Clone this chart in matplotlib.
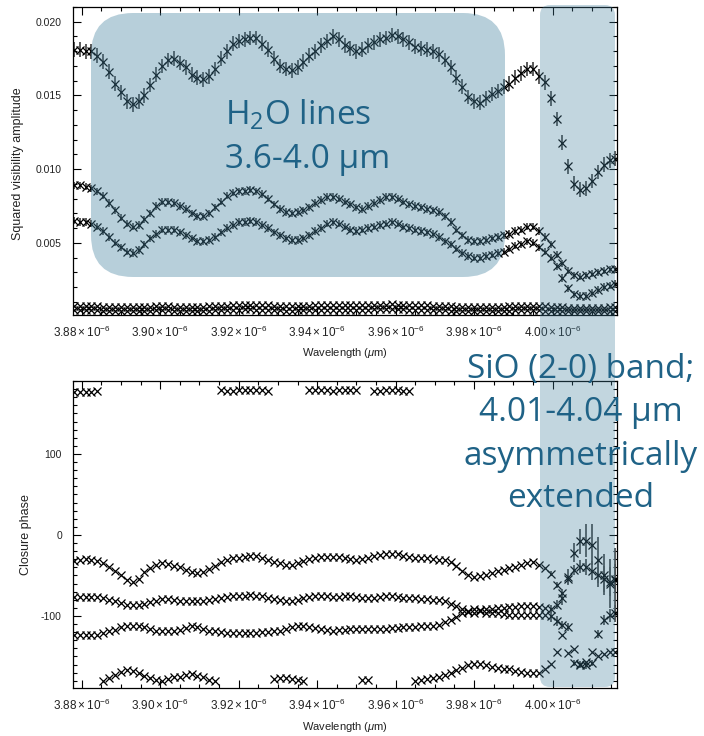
import numpy as np
import matplotlib
matplotlib.use('Agg')
import matplotlib.pyplot as plt
from matplotlib.patches import FancyBboxPatch
from matplotlib.ticker import MultipleLocator, FuncFormatter, FormatStrFormatter

plt.rcParams['font.family'] = ['Liberation Sans', 'DejaVu Sans']
plt.rcParams['mathtext.fontset'] = 'custom'
plt.rcParams['mathtext.rm'] = 'Liberation Sans'
plt.rcParams['mathtext.it'] = 'Liberation Sans:italic'
plt.rcParams['axes.unicode_minus'] = False

# spectral channels (nm)
wavelength_nm = [
    3878.0, 3879.5, 3881.0, 3882.5, 3884.0, 3885.5, 3887.0, 3888.5, 3890.0, 3891.5,
    3893.0, 3894.5, 3896.0, 3897.5, 3899.0, 3900.5, 3902.0, 3903.5, 3905.0, 3906.5,
    3908.0, 3909.5, 3911.0, 3912.5, 3914.0, 3915.5, 3917.0, 3918.5, 3920.0, 3921.5,
    3923.0, 3924.5, 3926.0, 3927.5, 3929.0, 3930.5, 3932.0, 3933.5, 3935.0, 3936.5,
    3938.0, 3939.5, 3941.0, 3942.5, 3944.0, 3945.5, 3947.0, 3948.5, 3950.0, 3951.5,
    3953.0, 3954.5, 3956.0, 3957.5, 3959.0, 3960.5, 3962.0, 3963.5, 3965.0, 3966.5,
    3968.0, 3969.5, 3971.0, 3972.5, 3974.0, 3975.5, 3977.0, 3978.5, 3980.0, 3981.5,
    3983.0, 3984.5, 3986.0, 3987.5, 3989.0, 3990.5, 3992.0, 3993.5, 3995.0, 3996.5,
    3998.0, 3999.5, 4001.0, 4002.5, 4004.0, 4005.5, 4007.0, 4008.5, 4010.0, 4011.5,
    4013.0, 4014.5, 4016.0]

# squared visibilities
v2_top = [
    0.0181, 0.0181, 0.0180, 0.0180, 0.0177, 0.0173, 0.0166, 0.0158, 0.0152, 0.0146,
    0.0144, 0.0146, 0.0150, 0.0157, 0.0164, 0.0170, 0.0174, 0.0175, 0.0172, 0.0169,
    0.0164, 0.0162, 0.0161, 0.0163, 0.0168, 0.0175, 0.0180, 0.0185, 0.0187, 0.0188,
    0.0189, 0.0189, 0.0185, 0.0181, 0.0175, 0.0170, 0.0168, 0.0167, 0.0169, 0.0173,
    0.0177, 0.0180, 0.0184, 0.0187, 0.0190, 0.0188, 0.0184, 0.0182, 0.0180, 0.0181,
    0.0184, 0.0186, 0.0188, 0.0189, 0.0191, 0.0190, 0.0188, 0.0186, 0.0183, 0.0182,
    0.0181, 0.0180, 0.0178, 0.0174, 0.0169, 0.0162, 0.0156, 0.0149, 0.0146, 0.0145,
    0.0148, 0.0151, 0.0153, 0.0156, 0.0158, 0.0162, 0.0165, 0.0168, 0.0168, 0.0163,
    0.0159, 0.0148, 0.0134, 0.0118, 0.0102, 0.0090, 0.0086, 0.0087, 0.0092, 0.0098,
    0.0103, 0.0106, 0.0107]
v2_mid1 = [
    0.0089, 0.0089, 0.0088, 0.0087, 0.0085, 0.0082, 0.0077, 0.0072, 0.0067, 0.0063,
    0.0061, 0.0062, 0.0066, 0.0070, 0.0075, 0.0078, 0.0078, 0.0077, 0.0075, 0.0073,
    0.0070, 0.0068, 0.0068, 0.0070, 0.0074, 0.0078, 0.0082, 0.0084, 0.0085, 0.0085,
    0.0086, 0.0085, 0.0083, 0.0080, 0.0076, 0.0073, 0.0071, 0.0070, 0.0071, 0.0072,
    0.0074, 0.0077, 0.0079, 0.0081, 0.0081, 0.0080, 0.0078, 0.0076, 0.0074, 0.0073,
    0.0075, 0.0077, 0.0079, 0.0081, 0.0081, 0.0080, 0.0078, 0.0076, 0.0075, 0.0074,
    0.0073, 0.0072, 0.0071, 0.0068, 0.0064, 0.0059, 0.0055, 0.0052, 0.0051, 0.0051,
    0.0052, 0.0053, 0.0054, 0.0055, 0.0056, 0.0058, 0.0059, 0.0061, 0.0061, 0.0058,
    0.0054, 0.0049, 0.0042, 0.0036, 0.0031, 0.0028, 0.0027, 0.0028, 0.0029, 0.0030,
    0.0031, 0.0032, 0.0032]
v2_mid2 = [
    0.0065, 0.0064, 0.0064, 0.0063, 0.0061, 0.0058, 0.0054, 0.0050, 0.0047, 0.0044,
    0.0043, 0.0045, 0.0049, 0.0053, 0.0056, 0.0059, 0.0059, 0.0059, 0.0057, 0.0055,
    0.0053, 0.0051, 0.0051, 0.0052, 0.0054, 0.0057, 0.0060, 0.0062, 0.0064, 0.0064,
    0.0065, 0.0064, 0.0062, 0.0060, 0.0057, 0.0055, 0.0053, 0.0052, 0.0052, 0.0053,
    0.0055, 0.0058, 0.0060, 0.0063, 0.0064, 0.0063, 0.0061, 0.0059, 0.0058, 0.0059,
    0.0060, 0.0061, 0.0062, 0.0063, 0.0064, 0.0063, 0.0061, 0.0060, 0.0059, 0.0058,
    0.0057, 0.0056, 0.0054, 0.0051, 0.0049, 0.0046, 0.0043, 0.0041, 0.0040, 0.0040,
    0.0041, 0.0042, 0.0043, 0.0044, 0.0046, 0.0048, 0.0049, 0.0051, 0.0050, 0.0047,
    0.0044, 0.0040, 0.0034, 0.0026, 0.0019, 0.0015, 0.0014, 0.0014, 0.0016, 0.0018,
    0.0020, 0.0021, 0.0022]
v2_low1 = [
    0.00072, 0.00070, 0.00071, 0.00069, 0.00068, 0.00067, 0.00066, 0.00065, 0.00065, 0.00064,
    0.00064, 0.00065, 0.00066, 0.00067, 0.00068, 0.00068, 0.00068, 0.00067, 0.00066, 0.00066,
    0.00065, 0.00065, 0.00066, 0.00068, 0.00070, 0.00072, 0.00074, 0.00076, 0.00078, 0.00079,
    0.00080, 0.00079, 0.00077, 0.00075, 0.00072, 0.00070, 0.00069, 0.00068, 0.00069, 0.00071,
    0.00073, 0.00075, 0.00077, 0.00078, 0.00079, 0.00078, 0.00077, 0.00076, 0.00075, 0.00076,
    0.00077, 0.00079, 0.00080, 0.00081, 0.00082, 0.00081, 0.00080, 0.00078, 0.00077, 0.00076,
    0.00075, 0.00074, 0.00073, 0.00071, 0.00069, 0.00067, 0.00065, 0.00064, 0.00063, 0.00063,
    0.00064, 0.00065, 0.00066, 0.00067, 0.00068, 0.00069, 0.00070, 0.00071, 0.00071, 0.00070,
    0.00068, 0.00066, 0.00064, 0.00062, 0.00060, 0.00059, 0.00058, 0.00058, 0.00059, 0.00060,
    0.00060, 0.00061, 0.00061]
v2_low2 = [
    0.00044, 0.00043, 0.00043, 0.00042, 0.00041, 0.00040, 0.00039, 0.00038, 0.00038, 0.00037,
    0.00037, 0.00038, 0.00039, 0.00040, 0.00041, 0.00041, 0.00041, 0.00040, 0.00039, 0.00039,
    0.00038, 0.00038, 0.00039, 0.00040, 0.00042, 0.00043, 0.00045, 0.00046, 0.00047, 0.00048,
    0.00048, 0.00047, 0.00046, 0.00044, 0.00042, 0.00041, 0.00040, 0.00040, 0.00041, 0.00042,
    0.00044, 0.00045, 0.00046, 0.00047, 0.00047, 0.00046, 0.00046, 0.00045, 0.00045, 0.00046,
    0.00047, 0.00048, 0.00049, 0.00050, 0.00050, 0.00049, 0.00048, 0.00047, 0.00046, 0.00045,
    0.00044, 0.00043, 0.00042, 0.00041, 0.00040, 0.00039, 0.00038, 0.00037, 0.00037, 0.00037,
    0.00038, 0.00038, 0.00039, 0.00040, 0.00040, 0.00041, 0.00042, 0.00042, 0.00042, 0.00041,
    0.00040, 0.00039, 0.00038, 0.00037, 0.00036, 0.00035, 0.00035, 0.00035, 0.00036, 0.00036,
    0.00037, 0.00037, 0.00038]
v2_top_err = 0.0005
v2_mid_err = 0.00025

# closure phases (deg)
cp1 = [
    -32, -31, -30, -31, -32, -35, -39, -45, -50, -56,
    -58, -54, -46, -41, -37, -35, -36, -38, -40, -43,
    -46, -47, -46, -42, -38, -34, -31, -29, -28, -27,
    -26, -26, -28, -31, -33, -35, -37, -37, -35, -32,
    -30, -28, -27.5, -27, -27, -27.5, -28.5, -30, -31, -30,
    -29, -26, -25, -23, -23, -24, -26, -27, -28, -29,
    -29, -30, -31, -31, -34, -38, -44, -49, -52, -51,
    -49, -47, -45, -43, -41, -39, -37, -35, -34, -37,
    -41, -48, -62, -72, -55, -43, -39, -40, -44, -50,
    -54, -58, -54]
cp2 = [
    -77, -77, -77, -77, -77, -78, -80, -82, -84, -86,
    -87, -87, -85, -83, -81, -79, -79, -80, -81, -82,
    -82, -82, -81, -80, -79, -78, -77, -76, -75.5, -75,
    -74, -75, -76, -78, -79, -80, -81, -81, -80, -78,
    -77, -76, -76, -76, -77, -77, -76, -76, -77, -78,
    -78, -78, -77, -76, -76, -77, -78, -78, -78, -79,
    -79, -80, -80, -82, -85, -88, -92, -95, -96, -94,
    -92, -91, -90, -90, -89, -89, -88, -88, -88, -89,
    -90, -92, -86, -78, -52, -22, -8, -7, -12, -31,
    -49, -60, -56]
cp3 = [
    -124, -124, -124, -124, -123, -121, -119, -117, -114, -113,
    -112, -112, -114, -116, -118, -119, -119, -118, -117, -115,
    -113, -114, -116, -118, -119, -120, -121, -121, -121, -121,
    -121, -121, -120, -120, -119, -118, -116, -114, -113, -113,
    -114, -115, -116, -117, -118, -117, -117, -116, -116, -116,
    -116, -116, -116, -116, -115, -115, -114, -114, -114, -113,
    -113, -112, -111, -108, -105, -101, -97, -94, -91, -93,
    -96, -97, -97, -98, -99, -99, -99, -99, -99, -99,
    -99, -100, -106, -111, -114, -158, -160, -161, -158, -122,
    -105, -99, -97]
cp4 = [
    177, 177, 177, 177, 178, -180, -177, -173, -169, -167,
    -168, -171, -174, -177, -179, -180, -178, -176, -175, -173,
    -172, -174, -176, -179, -180, 179, 178, 178, 179, 179,
    179, 179, 179, 178, -178, -177, -177, -178, -179, -180,
    179, 179, 179, 179, 178, 179, 179, 179, 179, -179,
    -179, 178, 178, 179, 179, 179, 178, 178, -180, -179,
    -178, -177, -175, -173, -170, -167, -164, -161, -159, -159,
    -161, -163, -164, -165, -166, -168, -169, -170, -171, -170,
    -166, -159, -144, -124, -146, -141, -159, -157, -145, -150,
    -147, -145, -144]
# error bars only significant in the last 12 channels
cp1_err_tail = [3, 4, 5, 5, 6, 8, 10, 12, 14, 16, 18, 18]
cp2_err_tail = [5, 6, 8, 10, 12, 15, 20, 25, 28, 25, 30, 40]
cp3_err_tail = [8, 6, 5, 5, 4, 4, 4, 4, 5, 6, 8, 10]

wl = np.array(wavelength_nm) * 1e-9

fig = plt.figure(figsize=(7.04, 7.36), dpi=100)
ax1 = fig.add_axes([0.1037, 0.572, 0.7727, 0.4185])
ax2 = fig.add_axes([0.1037, 0.0652, 0.7727, 0.4171])

mk = dict(marker='x', ms=6, mew=0.9, color='black', ls='none')
eb = dict(fmt='none', ecolor='0.3', elinewidth=1.3, capsize=0)

ax1.errorbar(wl, v2_top, yerr=v2_top_err, **eb)
ax1.errorbar(wl, v2_mid1, yerr=v2_mid_err, **eb)
ax1.errorbar(wl, v2_mid2, yerr=v2_mid_err, **eb)
for series in (v2_top, v2_mid1, v2_mid2, v2_low1, v2_low2):
    ax1.plot(wl, series, **mk)

n = len(cp1_err_tail)
ax2.errorbar(wl[-n:], cp1[-n:], yerr=cp1_err_tail, **eb)
ax2.errorbar(wl[-n:], cp2[-n:], yerr=cp2_err_tail, **eb)
ax2.errorbar(wl[-n:], cp3[-n:], yerr=cp3_err_tail, **eb)
for series in (cp1, cp2, cp3, cp4):
    ax2.plot(wl, series, **mk)

xfmt = FuncFormatter(lambda v, pos: r'$\mathregular{%.2f\times10^{-6}}$' % (v * 1e6))
for ax in (ax1, ax2):
    ax.set_xlim(3.8778e-6, 4.0164e-6)
    ax.xaxis.set_major_locator(MultipleLocator(0.02e-6))
    ax.xaxis.set_minor_locator(MultipleLocator(0.005e-6))
    ax.xaxis.set_major_formatter(xfmt)
    ax.tick_params(which='both', direction='in', top=True, right=True,
                   width=0.8, labelsize=7.5, labelcolor='#222222')
    ax.tick_params(which='major', length=6)
    ax.tick_params(which='minor', length=3)
    ax.tick_params(axis='x', pad=7, labelsize=8.5)
    ax.tick_params(axis='y', pad=8)
    for s in ax.spines.values():
        s.set_linewidth(0.9)
    ax.set_xlabel(r'Wavelength ($\mu$m)', fontsize=8, color='#222222')

ax1.set_ylim(0.0001, 0.0210)
ax1.yaxis.set_major_locator(MultipleLocator(0.005))
ax1.yaxis.set_minor_locator(MultipleLocator(0.001))
ax1.yaxis.set_major_formatter(FormatStrFormatter('%.3f'))
ax1.set_ylabel('Squared visibility amplitude', fontsize=9, color='#222222')
ax1.yaxis.set_label_coords(-0.090, 0.49)
ax1.xaxis.set_label_coords(0.5, -0.10)

ax2.set_ylim(-189, 190)
ax2.yaxis.set_major_locator(MultipleLocator(100))
ax2.yaxis.set_minor_locator(MultipleLocator(10))
ax2.yaxis.set_major_formatter(FormatStrFormatter('%d'))
ax2.set_ylabel('Closure phase', fontsize=9, color='#222222')
ax2.yaxis.set_label_coords(-0.075, 0.5)
ax2.xaxis.set_label_coords(0.5, -0.104)

# highlight boxes (figure inches)
blue = '#44819e'
fig.add_artist(FancyBboxPatch((0.91, 4.59), 4.14, 2.64,
                              boxstyle='round,pad=0,rounding_size=0.42',
                              transform=fig.dpi_scale_trans,
                              facecolor=blue, alpha=0.38, edgecolor='none', zorder=5))
fig.add_artist(FancyBboxPatch((5.40, 0.49), 0.75, 6.82,
                              boxstyle='round,pad=0,rounding_size=0.1',
                              transform=fig.dpi_scale_trans,
                              facecolor=blue, alpha=0.32, edgecolor='none', zorder=5))

tcol = '#1f6286'
tkw = dict(transform=fig.dpi_scale_trans, color=tcol, fontsize=24,
           family=['Open Sans', 'DejaVu Sans'], va='baseline', zorder=6)
fig.text(2.25, 6.11, r'H$\mathregular{_2}$O lines', ha='left', **tkw)
fig.text(2.25, 5.68, '3.6-4.0 μm', ha='left', **tkw)
fig.text(5.81, 3.58, 'SiO (2-0) band;', ha='center', **tkw)
fig.text(5.81, 3.15, '4.01-4.04 μm', ha='center', **tkw)
fig.text(5.81, 2.71, 'asymmetrically', ha='center', **tkw)
fig.text(5.81, 2.29, 'extended', ha='center', **tkw)

fig.savefig('out.png', dpi=100)
